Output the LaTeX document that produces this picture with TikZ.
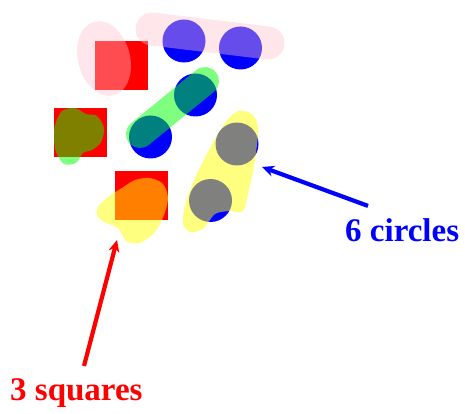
\documentclass[tikz,border=0pt]{standalone}
\usepackage{fontspec}
\setmainfont{Liberation Serif}
\usepackage{tikz}
\usetikzlibrary{arrows.meta,positioning,calc}
\definecolor{carre}{HTML}{FF0000}
\definecolor{rond}{HTML}{0000FF}
\definecolor{surlrose}{RGB}{255,192,203}
\definecolor{surlvert}{HTML}{00FF00}
\definecolor{surljaune}{HTML}{FFFF00}
\tikzset{
  carrebox/.style={rectangle, fill=carre, inner sep=0pt, minimum width=53pt, minimum height=49pt},
  rondbox/.style={circle, fill=rond, inner sep=0pt, minimum size=43pt},
  surl/.style={fill=#1, opacity=0.5},
  trait/.style={draw=#1, line cap=round, opacity=0.5},
  etiq/.style={text=#1, font=\fontsize{33}{36}\selectfont\bfseries, inner sep=0pt, anchor=base west},
  fleche/.style={-{Stealth[length=12pt,width=11pt]}, line width=4.2pt, draw=#1},
}

\begin{document}
\begin{tikzpicture}[x=1pt, y=-1pt]
    \useasboundingbox (0,0) rectangle (465,414);
    % formes
    \node[carrebox] (sq1) at (121,65.5) {};
    \node[carrebox] (sq2) at (80.5,132.5) {};
    \node[carrebox] (sq3) at (141,195.5) {};
    \node[rondbox] (c1) at (184,41) {};
    \node[rondbox] (c2) at (240.5,48) {};
    \node[rondbox] (c3) at (195.5,95) {};
    \node[rondbox] (c4) at (150.5,137) {};
    \node[rondbox] (c5) at (237,144) {};
    \node[rondbox] (c6) at (210.5,200.5) {};
    % surlignages
    \draw[trait=surlrose, opacity=0.4, line width=33pt] (152,29) -- (268,43);
    \fill[surlrose, opacity=0.4] (104,58.5) ellipse[x radius=26, y radius=38, rotate=15];
    \draw[trait=surlvert, line width=28pt] (140,134) -- (205,81);
    \fill[surl=surlvert] plot[smooth cycle] coordinates {(55,125) (62,111) (75,108) (86,114) (97,116) (104,128)
      (101,142) (92,150) (83,153) (76,163) (64,164) (56,152) (54,138)};
    \fill[surl=surljaune] plot[smooth cycle] coordinates {(238,111) (252,114) (258,128) (255,160) (249,190)
      (243,211) (230,211) (215,214) (203,229) (190,232) (183,224) (185,205) (195,178) (210,148) (225,123)};
    \fill[surl=surljaune] plot[smooth cycle] coordinates {(98,207) (108,197) (122,188) (135,180) (150,178)
      (163,184) (168,198) (164,215) (155,232) (140,243) (126,241) (118,228) (104,222) (97,215)};
    % etiquettes
    \node[etiq=rond] (ronds) at (345,241) {6 circles};
    \node[etiq=carre] (carres) at (10,400) {3 squares};
    \coordinate (pr) at (262,167);
    \coordinate (pc) at (117,240);
    \draw[fleche=rond] ($(ronds.north west)+(23,-12)$) -- (pr);
    \draw[fleche=carre] ($(carres.north west)+(74,-12)$) -- (pc);
\end{tikzpicture}
\end{document}
